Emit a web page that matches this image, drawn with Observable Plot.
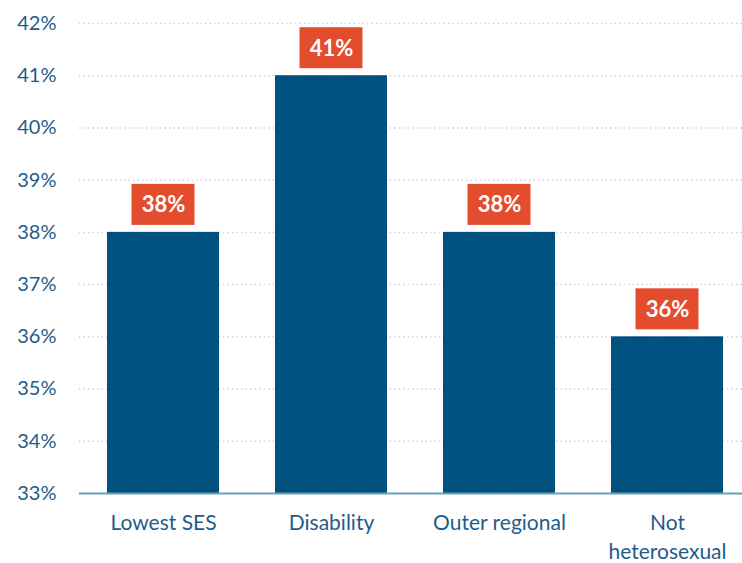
<!DOCTYPE html>
<html>
<head>
<meta charset="utf-8">
<script src="https://cdn.jsdelivr.net/npm/d3@7"></script>
<script src="https://cdn.jsdelivr.net/npm/@observablehq/plot@0.6"></script>
<style>
  html, body { margin: 0; padding: 0; background: #fff; }
  #chart svg { display: block; font-family: Lato, "Open Sans", sans-serif; }
</style>
</head>
<body>
<div id="chart"></div>
<script>
const categories = ["Lowest SES", "Disability", "Outer regional", "Not heterosexual"];
const values = [38, 41, 38, 36];
const valueLabels = ["38%", "41%", "38%", "36%"];
const yTicks = [33, 34, 35, 36, 37, 38, 39, 40, 41, 42];
const axisLabels = ["Lowest SES", "Disability", "Outer regional", "Not\nheterosexual"];

const data = categories.map((c, i) => ({category: c, value: values[i], label: valueLabels[i]}));
const tickText = new Map(categories.map((c, i) => [c, axisLabels[i]]));

const blue = "#00517f";
const orange = "#e44c2e";
const textBlue = "#1f5c8a";

const chart = Plot.plot({
  width: 742,
  height: 563,
  marginLeft: 79,
  marginRight: 0,
  marginTop: 23,
  marginBottom: 70,
  style: {fontFamily: "Lato, 'Open Sans', sans-serif", background: "#fff"},
  x: {domain: categories, range: [79, 751], paddingInner: 1/3, paddingOuter: 1/6, align: 0.5, label: null},
  y: {domain: [33, 42], label: null},
  marks: [
    Plot.gridY(yTicks, {stroke: "#c5d6de", strokeOpacity: 1, strokeWidth: 1.5, strokeDasharray: "1.5,3"}),
    Plot.barY(data, {x: "category", y1: () => 33, y2: "value", fill: blue}),
    Plot.ruleY([33], {stroke: "#6f9fb3", strokeWidth: 2}),
    Plot.barY(data, {x: "category", y1: "value", y2: "value", fill: orange, insetLeft: 24.5, insetRight: 24.5, insetTop: -48, insetBottom: 7}),
    Plot.text(data, {x: "category", y: "value", text: "label", dy: -27, fill: "white", fontWeight: "bold", fontSize: 22}),
    Plot.axisY(yTicks, {tickSize: 0, tickPadding: 23, tickFormat: d => d + "%", fontSize: 20, fill: textBlue, label: null}),
    Plot.axisX({tickSize: 0, tickPadding: 15, tickFormat: d => tickText.get(d), fontSize: 21, fill: textBlue, lineHeight: 1.42, label: null})
  ]
});
document.getElementById("chart").appendChild(chart);
</script>
</body>
</html>
